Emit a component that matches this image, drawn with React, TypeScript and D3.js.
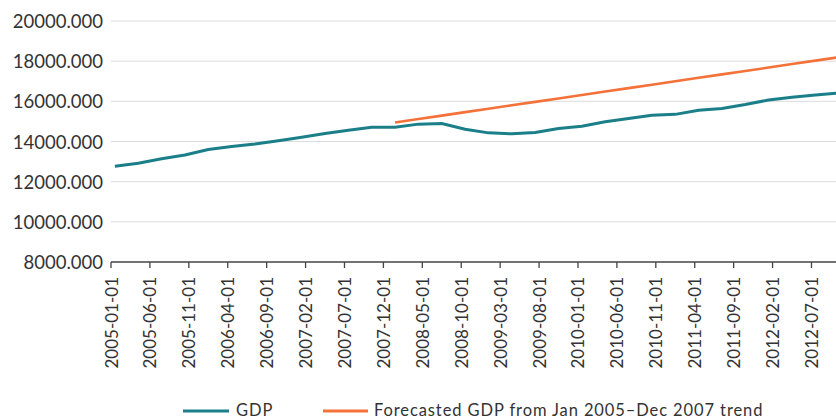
import React from "react";
import * as d3 from "d3";

// Quarterly GDP (billions of dollars), placed on quarter-start months
const gdpDates = [
  "2005-01", "2005-04", "2005-07", "2005-10",
  "2006-01", "2006-04", "2006-07", "2006-10",
  "2007-01", "2007-04", "2007-07", "2007-10",
  "2008-01", "2008-04", "2008-07", "2008-10",
  "2009-01", "2009-04", "2009-07", "2009-10",
  "2010-01", "2010-04", "2010-07", "2010-10",
  "2011-01", "2011-04", "2011-07", "2011-10",
  "2012-01", "2012-04", "2012-07", "2012-10",
];
const gdpValues = [
  12767, 12922, 13142, 13324,
  13599, 13753, 13871, 14040,
  14216, 14402, 14564, 14715,
  14707, 14865, 14899, 14608,
  14430, 14381, 14449, 14652,
  14764, 14980, 15141, 15309,
  15351, 15558, 15648, 15842,
  16069, 16207, 16319, 16420,
];

const forecastDates = [
  "2008-01", "2008-04", "2008-07", "2008-10",
  "2009-01", "2009-04", "2009-07", "2009-10",
  "2010-01", "2010-04", "2010-07", "2010-10",
  "2011-01", "2011-04", "2011-07", "2011-10",
  "2012-01", "2012-04", "2012-07", "2012-10",
];
const forecastValues = [
  14948, 15119, 15290, 15461,
  15632, 15803, 15974, 16145,
  16316, 16487, 16658, 16829,
  17000, 17171, 17342, 17513,
  17684, 17855, 18026, 18197,
];

const tickLabels = [
  "2005-01-01", "2005-06-01", "2005-11-01", "2006-04-01", "2006-09-01",
  "2007-02-01", "2007-07-01", "2007-12-01", "2008-05-01", "2008-10-01",
  "2009-03-01", "2009-08-01", "2010-01-01", "2010-06-01", "2010-11-01",
  "2011-04-01", "2011-09-01", "2012-02-01", "2012-07-01",
];

const yTicks = [8000, 10000, 12000, 14000, 16000, 18000, 20000];

const seriesNames = ["GDP", "Forecasted GDP from Jan 2005\u2013Dec 2007 trend"];
const colors = ["#1b7f8a", "#f4713a"];

// month categories for the band axis
const months: string[] = [];
for (let yr = 2005; yr <= 2012; yr++) {
  for (let m = 1; m <= 12; m++) months.push(`${yr}-${String(m).padStart(2, "0")}`);
}

const W = 836;
const H = 419;
const FONT = "Lato, 'Open Sans', sans-serif";

export default function App() {
  const x0 = 111;
  const step = 7.783;
  const x = d3.scaleBand<string>().domain(months).range([x0, x0 + months.length * step]).padding(0);
  const bw = x.bandwidth();
  const y = d3.scaleLinear().domain([8000, 20000]).range([262, 21]);
  const fmt = d3.format(".3f");

  const line = d3
    .line<[string, number]>()
    .x((d) => (x(d[0]) as number) + bw / 2)
    .y((d) => y(d[1]));

  const gdpPath = line(gdpDates.map((d, i) => [d, gdpValues[i]] as [string, number])) || "";
  const fcPath = line(forecastDates.map((d, i) => [d, forecastValues[i]] as [string, number])) || "";

  const plotRight = W;
  const legY = 409.5;

  return (
    <svg
      width={W}
      height={H}
      style={{ position: "absolute", left: 0, top: 0, background: "#fff" }}
      fontFamily={FONT}
    >
      {yTicks.map((t) => (
        <g key={t}>
          {t !== 8000 && (
            <line x1={x0} x2={plotRight} y1={y(t)} y2={y(t)} stroke="#dcdcdc" strokeWidth={1} />
          )}
          <text
            x={103}
            y={y(t)}
            textAnchor="end"
            dominantBaseline="central"
            fontSize={18.5}
            fill="#333"
          >
            {fmt(t)}
          </text>
        </g>
      ))}

      <line x1={x0} x2={plotRight} y1={262} y2={262} stroke="#444" strokeWidth={1.3} />
      {tickLabels.map((lab) => {
        const key = lab.slice(0, 7);
        const tx = x(key) as number;
        return (
          <g key={lab}>
            <line x1={tx} x2={tx} y1={262} y2={268} stroke="#444" strokeWidth={1.3} />
            <text
              transform={`translate(${tx},277) rotate(-90)`}
              textAnchor="end"
              dominantBaseline="central"
              fontSize={17}
              fill="#333"
            >
              {lab}
            </text>
          </g>
        );
      })}

      <path d={gdpPath} fill="none" stroke={colors[0]} strokeWidth={3} />
      <path d={fcPath} fill="none" stroke={colors[1]} strokeWidth={2.6} />

      <g>
        <line x1={183} x2={229} y1={legY + 1.5} y2={legY + 1.5} stroke={colors[0]} strokeWidth={3} />
        <text x={236} y={legY} dominantBaseline="central" fontSize={16.5} letterSpacing={0.9} fill="#333">
          {seriesNames[0]}
        </text>
        <line x1={323} x2={368} y1={legY + 1.5} y2={legY + 1.5} stroke={colors[1]} strokeWidth={3} />
        <text x={374} y={legY} dominantBaseline="central" fontSize={16.5} letterSpacing={0.9} fill="#333">
          {seriesNames[1]}
        </text>
      </g>
    </svg>
  );
}
